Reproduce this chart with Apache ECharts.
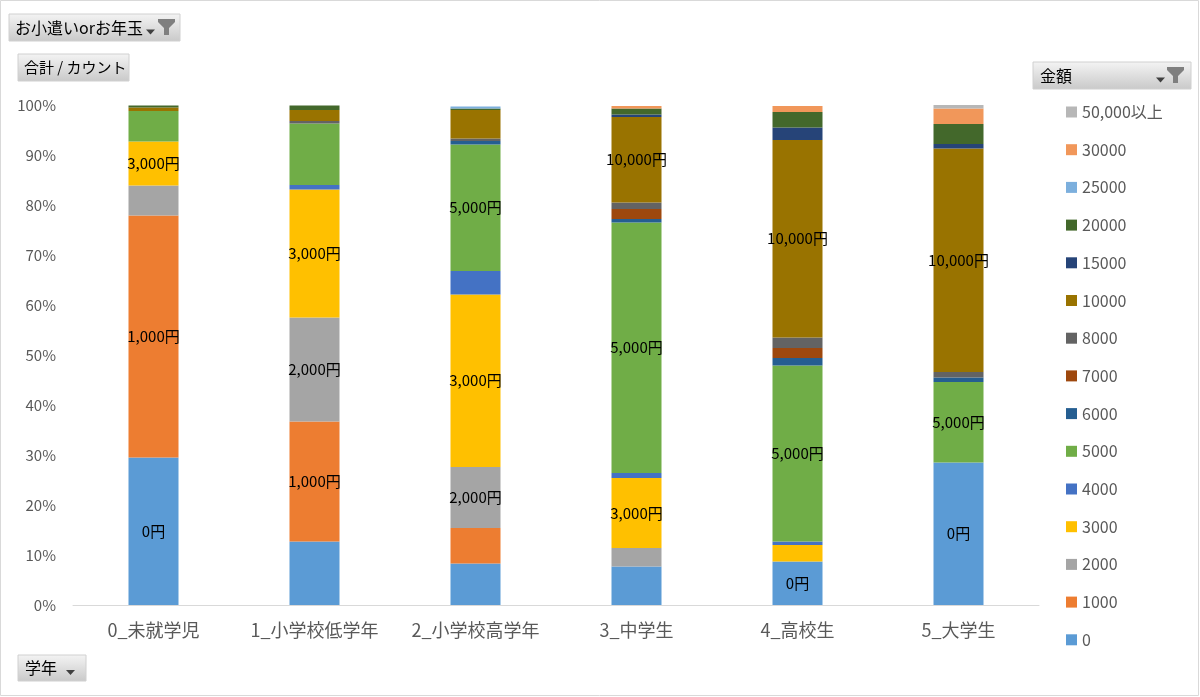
<!DOCTYPE html>
<html>
<head>
<meta charset="utf-8">
<script src="https://cdn.jsdelivr.net/npm/echarts@6/dist/echarts.min.js"></script>
<style>
html,body{margin:0;padding:0;background:#fff;}
#chart{width:1200px;height:697px;}
</style>
</head>
<body>
<div id="chart"></div>
<script>
// ---- data ----
var categories = ['0_未就学児', '1_小学校低学年', '2_小学校高学年', '3_中学生', '4_高校生', '5_大学生'];
var amounts = ['0', '1000', '2000', '3000', '4000', '5000', '6000', '7000', '8000', '10000', '15000', '20000', '25000', '30000', '50,000以上'];
var v0     = [29.5, 12.7, 8.3, 7.7, 8.7, 28.5];
var v1000  = [48.4, 24.0, 7.1, 0, 0, 0];
var v2000  = [6.0, 20.8, 12.2, 3.7, 0, 0];
var v3000  = [8.8, 25.6, 34.5, 14.0, 3.3, 0];
var v4000  = [0, 0.9, 4.7, 1.0, 0.7, 0];
var v5000  = [6.1, 12.3, 25.3, 50.1, 35.2, 16.1];
var v6000  = [0, 0, 0.7, 0.7, 1.5, 0.9];
var v7000  = [0, 0, 0, 2.0, 2.0, 0];
var v8000  = [0, 0.5, 0.5, 1.3, 2.1, 1.1];
var v10000 = [0.7, 2.2, 5.7, 17.1, 39.5, 44.7];
var v15000 = [0, 0, 0, 0.5, 2.5, 0.9];
var v20000 = [0.4, 0.9, 0.3, 1.2, 3.1, 4.0];
var v25000 = [0, 0, 0.4, 0, 0, 0];
var v30000 = [0, 0, 0, 0.5, 1.2, 3.1];
var v50000 = [0, 0, 0, 0, 0, 0.7];
var yTicks = [0, 10, 20, 30, 40, 50, 60, 70, 80, 90, 100];
// which segments carry a data label (category indices per amount)
var labeled = {'0': [0, 4, 5], '1000': [0, 1], '2000': [1, 2], '3000': [0, 1, 2, 3], '5000': [2, 3, 4, 5], '10000': [3, 4, 5]};

var seriesValues = [v0, v1000, v2000, v3000, v4000, v5000, v6000, v7000, v8000, v10000, v15000, v20000, v25000, v30000, v50000];
var colors = ['#5B9BD5', '#ED7D31', '#A5A5A5', '#FFC000', '#4472C4', '#70AD47', '#255E91', '#9E480E', '#636363', '#997300', '#264478', '#43682B', '#7CAFDD', '#F1975A', '#B7B7B7'];

var FONT = "'Noto Sans CJK JP', 'Noto Sans', sans-serif";

function fmtYen(name) {
  return Number(name).toLocaleString('en-US') + '円';
}

var series = amounts.map(function (name, si) {
  var lab = labeled[name] || [];
  return {
    name: name,
    type: 'bar',
    stack: 'total',
    barWidth: 50,
    itemStyle: {color: colors[si]},
    label: {
      show: false,
      position: 'inside',
      color: '#000',
      fontSize: 15,
      fontFamily: FONT,
      formatter: function () { return fmtYen(name); }
    },
    emphasis: {disabled: true},
    data: seriesValues[si].map(function (v, ci) {
      if (lab.indexOf(ci) >= 0) return {value: v, label: {show: true}};
      return v;
    })
  };
});

function button(x, y, w, h, text, tx, fs, opts) {
  var children = [{
    type: 'rect',
    shape: {x: x, y: y, width: w, height: h},
    style: {
      fill: new echarts.graphic.LinearGradient(0, 0, 0, 1, [
        {offset: 0, color: '#f4f4f4'},
        {offset: 1, color: '#c9c9c9'}
      ]),
      stroke: '#d0d0d0', lineWidth: 1
    }
  }, {
    type: 'text',
    style: {x: tx, y: y + h / 2, text: text, fill: '#000', font: fs + 'px ' + FONT, verticalAlign: 'middle'}
  }];
  if (opts && opts.tri) {
    var t = opts.tri;
    children.push({type: 'polygon', shape: {points: [[t, y + h / 2 + 2], [t + 9, y + h / 2 + 2], [t + 4.5, y + h / 2 + 7]]}, style: {fill: '#404040'}});
  }
  if (opts && opts.funnel) {
    var f = opts.funnel, fy = y + 5;
    children.push({type: 'polygon', shape: {points: [[f, fy], [f + 17, fy], [f + 17, fy + 3], [f + 11, fy + 9], [f + 11, fy + 16], [f + 6, fy + 16], [f + 6, fy + 9], [f, fy + 3]]}, style: {fill: '#7f7f7f'}});
  }
  return {type: 'group', children: children};
}

var chart = echarts.init(document.getElementById('chart'), null, {renderer: 'canvas'});
chart.setOption({
  animation: false,
  backgroundColor: '#fff',
  textStyle: {fontFamily: FONT},
  grid: {left: 73, right: 161, top: 105, bottom: 92, containLabel: false},
  legend: {
    orient: 'vertical',
    left: 1061,
    top: 98,
    data: amounts.slice().reverse(),
    icon: 'rect',
    itemWidth: 11,
    itemHeight: 11,
    itemGap: 19.7,
    textStyle: {color: '#595959', fontSize: 16, lineHeight: 18, fontFamily: FONT},
    selectedMode: false
  },
  xAxis: {
    type: 'category',
    data: categories,
    axisLine: {lineStyle: {color: '#d9d9d9'}},
    axisTick: {show: false},
    axisLabel: {color: '#595959', fontSize: 18, margin: 16, interval: 0, hideOverlap: false, fontFamily: FONT}
  },
  yAxis: {
    type: 'value',
    min: 0,
    max: 100,
    interval: 10,
    axisLine: {show: false},
    axisTick: {show: false},
    splitLine: {show: false},
    axisLabel: {
      color: '#595959', fontSize: 15, margin: 17, fontFamily: FONT,
      formatter: function (v) { return yTicks.indexOf(v) >= 0 ? v + '%' : ''; }
    }
  },
  graphic: [
    {type: 'rect', shape: {x: 0.5, y: 0.5, width: 1198, height: 695}, style: {fill: 'none', stroke: '#d9d9d9', lineWidth: 1}},
    button(9, 14, 171, 27, 'お小遣いorお年玉', 15, 16, {tri: 146, funnel: 158}),
    button(18, 54, 111, 27, '合計 / カウント', 24, 15),
    button(18, 655, 68, 26, '学年', 25, 16, {tri: 66}),
    button(1033, 62, 158, 27, '金額', 1040, 16, {tri: 1156, funnel: 1167})
  ],
  series: series
});
</script>
</body>
</html>
